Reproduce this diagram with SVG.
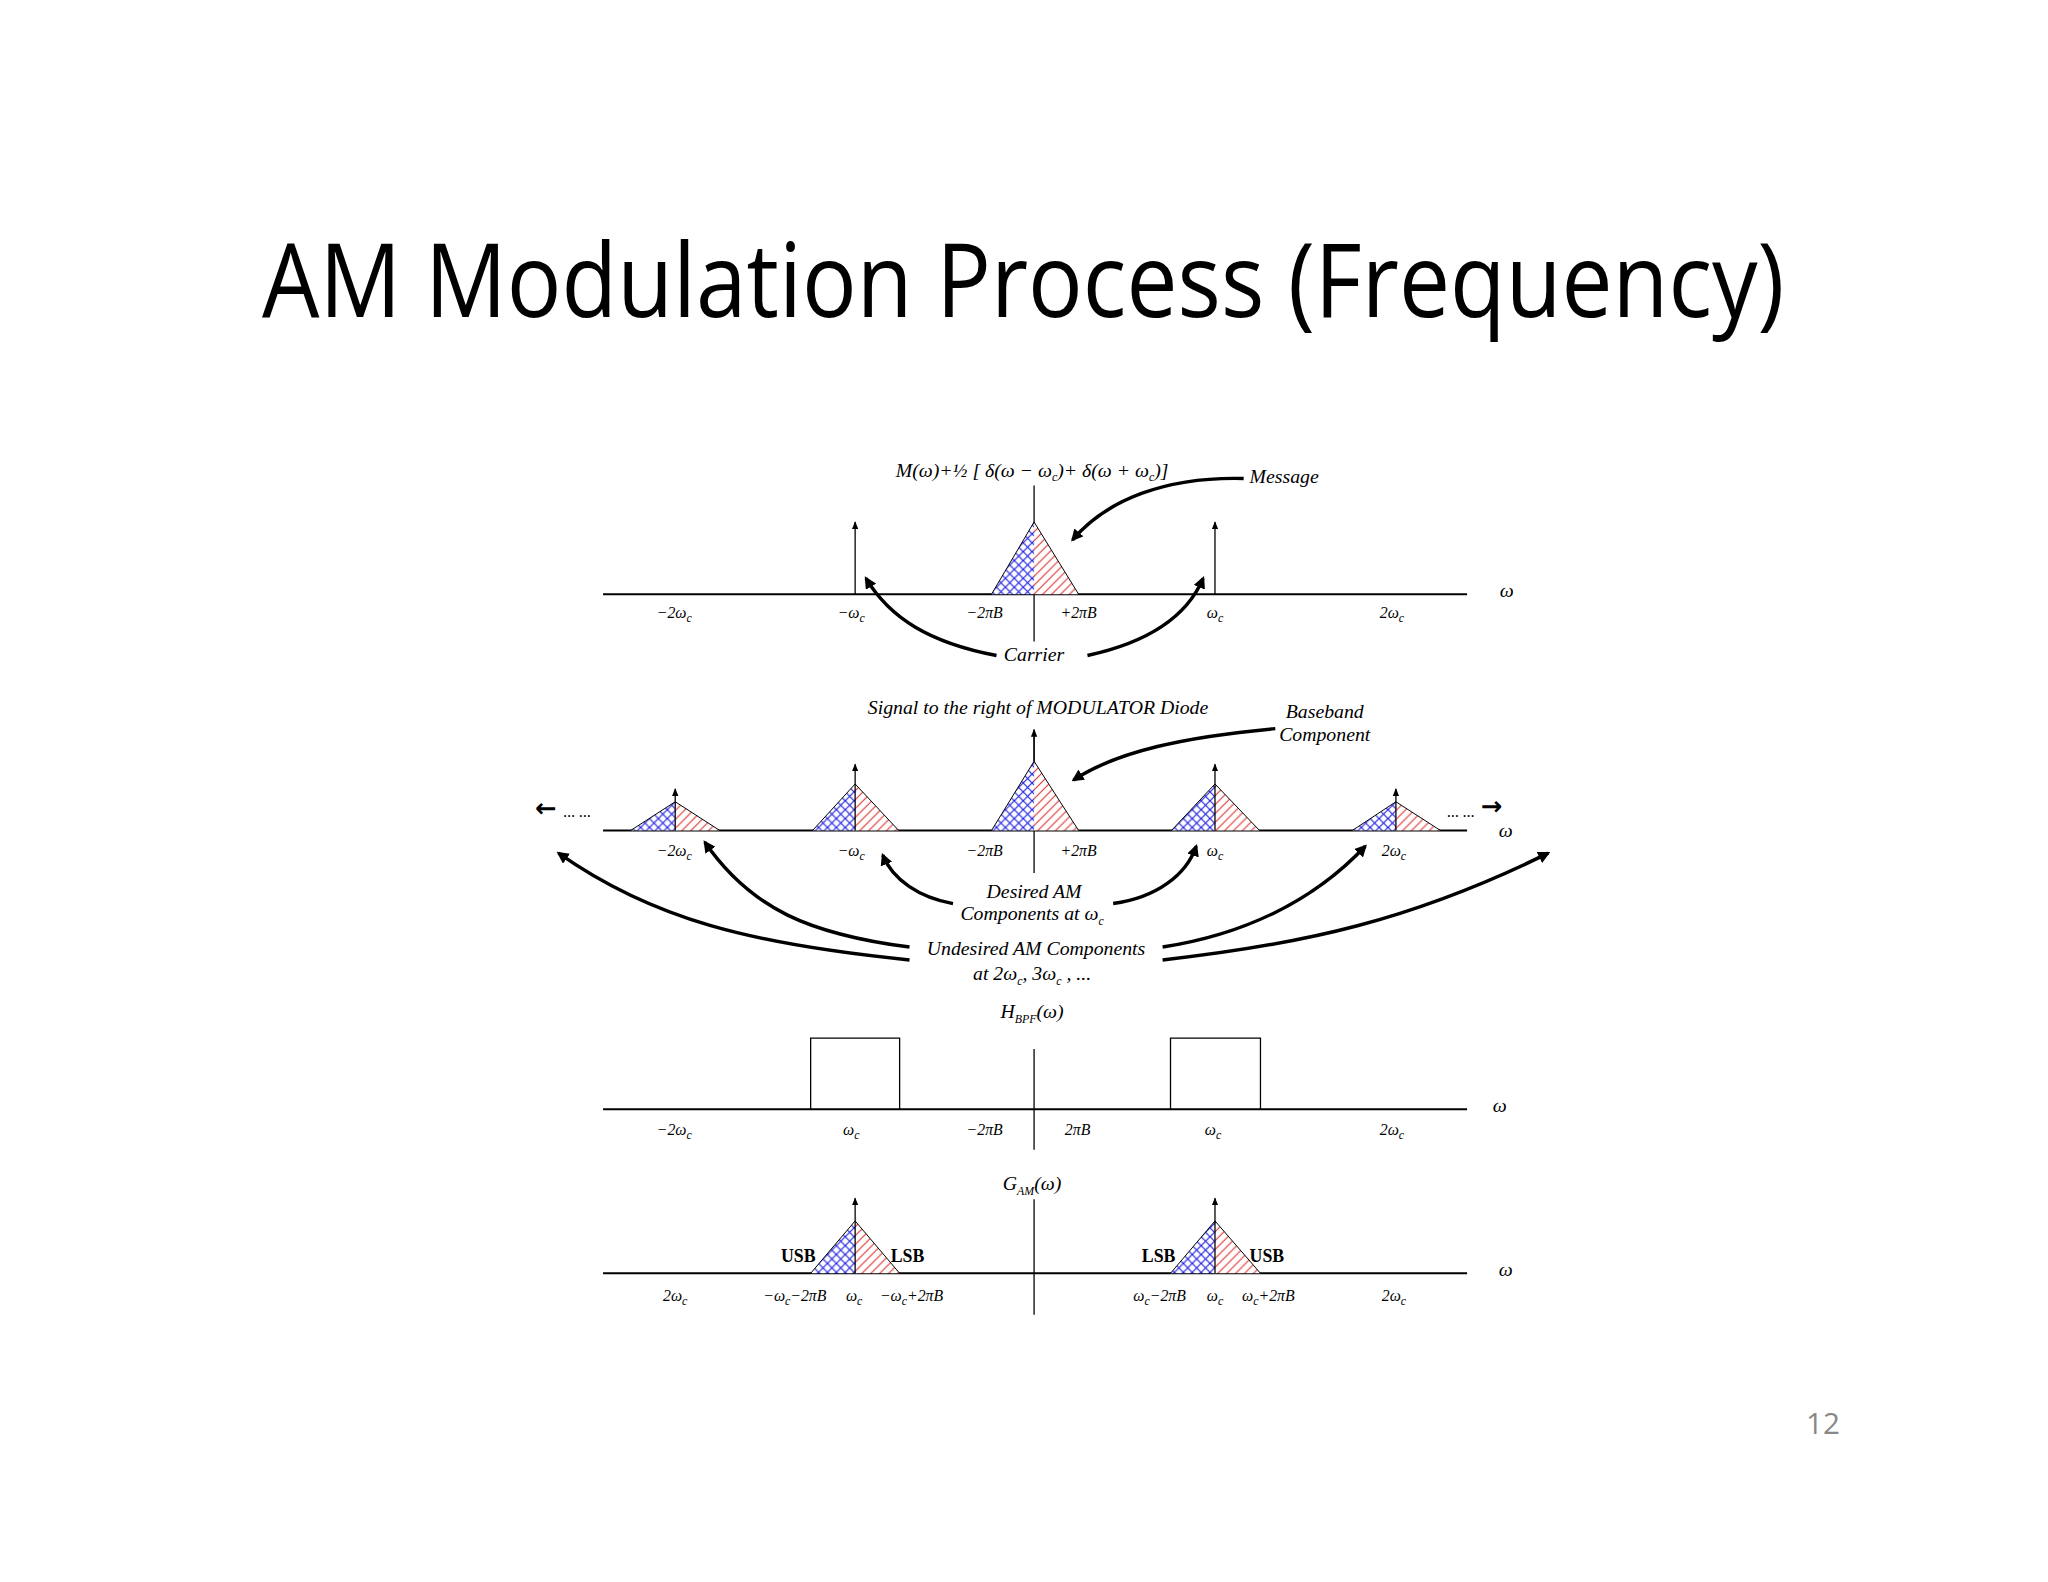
<svg xmlns="http://www.w3.org/2000/svg" width="2048" height="1582" viewBox="0 0 2048 1582">
<style>
.ax{stroke:#000;stroke-width:2;fill:none}
.th{stroke:#000;stroke-width:1.3;fill:none}
.imp{stroke:#000;stroke-width:1.3;fill:none;marker-end:url(#ah)}
.cv{stroke:#000;stroke-width:3.5;fill:none;marker-end:url(#bh)}
.t{font-family:"Liberation Serif",serif;font-style:italic;font-size:20px;fill:#000}
.l{font-family:"Liberation Serif",serif;font-style:italic;font-size:16px;fill:#000;text-anchor:middle}
.c{text-anchor:middle}
.b{font-family:"Liberation Serif",serif;font-weight:bold;font-size:18px;fill:#000}
.s{font-size:12px}
.bl{fill:url(#xh);stroke:none}
.rd{fill:url(#dh);stroke:none}
.ol{fill:none;stroke:#000;stroke-width:1}
</style>
<defs>
<marker id="ah" viewBox="0 0 10 10" refX="9" refY="5" markerWidth="8" markerHeight="8" orient="auto" markerUnits="userSpaceOnUse"><path d="M0,1 L10,5 L0,9 Z" fill="#000"/></marker>
<marker id="bh" viewBox="0 0 10 10" refX="8" refY="5" markerWidth="3.5" markerHeight="3.5" orient="auto"><path d="M0,0 L10,5 L0,10 Z" fill="#000"/></marker>
<pattern id="xh" width="9" height="9" patternUnits="userSpaceOnUse"><rect width="9" height="9" fill="#fff"/><path d="M0,0 L9,9 M9,0 L0,9" stroke="#2020e0" stroke-width="1.2"/></pattern>
<pattern id="dh" width="9" height="9" patternUnits="userSpaceOnUse"><rect width="9" height="9" fill="#fff"/><path d="M-1,10 L10,-1 M-2,2 L2,-2 M7,11 L11,7" stroke="#e03030" stroke-width="1.1"/></pattern>
</defs>
<rect width="2048" height="1582" fill="#fff"/>
<g transform="scale(0.9886)">
<text x="1035" y="321" font-family="'Open Sans','Liberation Sans',sans-serif" font-size="104" text-anchor="middle" textLength="1540" lengthAdjust="spacingAndGlyphs">AM Modulation Process (Frequency)</text>
<text x="1844" y="1451" font-family="'Open Sans','Liberation Sans',sans-serif" font-size="30" fill="#888" text-anchor="middle">12</text>

<g id="panel1">
<line class="ax" x1="610" y1="601" x2="1484" y2="601"/>
<line class="th" x1="1046" y1="491" x2="1046" y2="649"/>
<polygon class="bl" points="1003,601 1046,528 1046,601"/>
<polygon class="rd" points="1046,601 1046,528 1091,601"/>
<polyline class="ol" points="1003,601 1046,528 1091,601"/>
<line class="imp" x1="865" y1="601" x2="865" y2="528"/>
<line class="imp" x1="1229" y1="601" x2="1229" y2="528"/>
<text class="t c" x="1044" y="483">M(ω)+½ [ δ(ω − ω<tspan class="s" dy="4">c</tspan><tspan dy="-4">)+ δ(ω + ω</tspan><tspan class="s" dy="4">c</tspan><tspan dy="-4">)]</tspan></text>
<text class="t" x="1264" y="489">Message</text>
<text class="t c" x="1046" y="669">Carrier</text>
<text class="t" x="1517" y="604">ω</text>
<text class="l" x="682" y="625">−2ω<tspan class="s" dy="4">c</tspan></text>
<text class="l" x="861" y="625">−ω<tspan class="s" dy="4">c</tspan></text>
<text class="l" x="996" y="625">−2πB</text>
<text class="l" x="1091" y="625">+2πB</text>
<text class="l" x="1229" y="625">ω<tspan class="s" dy="4">c</tspan></text>
<text class="l" x="1408" y="625">2ω<tspan class="s" dy="4">c</tspan></text>
</g>

<g id="panel2">
<line class="ax" x1="610" y1="840" x2="1484" y2="840"/>
<line class="th" x1="1046" y1="883" x2="1046" y2="740"/>
<line class="imp" x1="1046" y1="770" x2="1046" y2="738"/>
<polygon class="bl" points="1003,840 1046,770 1046,840"/><polygon class="rd" points="1046,840 1046,770 1091,840"/><polyline class="ol" points="1003,840 1046,770 1091,840"/>
<polygon class="bl" points="822,840 865,793 865,840"/><polygon class="rd" points="865,840 865,793 909,840"/><polyline class="ol" points="822,840 865,793 909,840"/>
<line class="imp" x1="865" y1="840" x2="865" y2="773"/>
<polygon class="bl" points="1185,840 1229,793 1229,840"/><polygon class="rd" points="1229,840 1229,793 1274,840"/><polyline class="ol" points="1185,840 1229,793 1274,840"/>
<line class="imp" x1="1229" y1="840" x2="1229" y2="773"/>
<polygon class="bl" points="638,840 683,811 683,840"/><polygon class="rd" points="683,840 683,811 728,840"/><polyline class="ol" points="638,840 683,811 728,840"/>
<line class="imp" x1="683" y1="840" x2="683" y2="798"/>
<polygon class="bl" points="1368,840 1412,811 1412,840"/><polygon class="rd" points="1412,840 1412,811 1457,840"/><polyline class="ol" points="1368,840 1412,811 1457,840"/>
<line class="imp" x1="1412" y1="840" x2="1412" y2="798"/>
<text x="552" y="826" font-family="'DejaVu Sans',sans-serif" font-weight="bold" font-size="26" text-anchor="middle">←</text>
<text x="1509" y="824" font-family="'DejaVu Sans',sans-serif" font-weight="bold" font-size="26" text-anchor="middle">→</text>
<text class="l" x="584" y="826" font-size="11">... ...</text>
<text class="l" x="1478" y="826" font-size="11">... ...</text>
<text class="t" x="1516" y="847">ω</text>
<text class="t c" x="1050" y="722">Signal to the right of MODULATOR Diode</text>
<text class="t c" x="1340" y="726">Baseband</text>
<text class="t c" x="1340" y="750">Component</text>
<text class="l" x="682" y="866">−2ω<tspan class="s" dy="4">c</tspan></text>
<text class="l" x="861" y="866">−ω<tspan class="s" dy="4">c</tspan></text>
<text class="l" x="996" y="866">−2πB</text>
<text class="l" x="1091" y="866">+2πB</text>
<text class="l" x="1229" y="866">ω<tspan class="s" dy="4">c</tspan></text>
<text class="l" x="1410" y="866">2ω<tspan class="s" dy="4">c</tspan></text>
<text class="t c" x="1046" y="908">Desired AM</text>
<text class="t c" x="1044" y="931">Components at ω<tspan class="s" dy="5">c</tspan></text>
<text class="t c" x="1048" y="966">Undesired AM Components</text>
<text class="t c" x="1044" y="991">at 2ω<tspan class="s" dy="5">c</tspan><tspan dy="-5">, 3ω</tspan><tspan class="s" dy="5">c</tspan><tspan dy="-5"> , ...</tspan></text>
</g>

<g id="panel3">
<line class="ax" x1="610" y1="1122" x2="1484" y2="1122"/>
<line class="th" x1="1046" y1="1061" x2="1046" y2="1163"/>
<polyline class="th" points="820,1122 820,1050 910,1050 910,1122"/>
<polyline class="th" points="1184,1122 1184,1050 1275,1050 1275,1122"/>
<text class="t c" x="1044" y="1030">H<tspan class="s" dy="5">BPF</tspan><tspan dy="-5">(ω)</tspan></text>
<text class="t" x="1510" y="1125">ω</text>
<text class="l" x="682" y="1148">−2ω<tspan class="s" dy="4">c</tspan></text>
<text class="l" x="861" y="1148">ω<tspan class="s" dy="4">c</tspan></text>
<text class="l" x="996" y="1148">−2πB</text>
<text class="l" x="1090" y="1148">2πB</text>
<text class="l" x="1227" y="1148">ω<tspan class="s" dy="4">c</tspan></text>
<text class="l" x="1408" y="1148">2ω<tspan class="s" dy="4">c</tspan></text>
</g>

<g id="panel4">
<line class="ax" x1="610" y1="1288" x2="1484" y2="1288"/>
<line class="th" x1="1046" y1="1213" x2="1046" y2="1330"/>
<polygon class="bl" points="820,1288 865,1235 865,1288"/><polygon class="rd" points="865,1288 865,1235 910,1288"/><polyline class="ol" points="820,1288 865,1235 910,1288"/>
<line class="imp" x1="865" y1="1288" x2="865" y2="1212"/>
<polygon class="bl" points="1184,1288 1229,1235 1229,1288"/><polygon class="rd" points="1229,1288 1229,1235 1275,1288"/><polyline class="ol" points="1184,1288 1229,1235 1275,1288"/>
<line class="imp" x1="1229" y1="1288" x2="1229" y2="1212"/>
<text class="t c" x="1044" y="1204">G<tspan class="s" dy="5">AM</tspan><tspan dy="-5">(ω)</tspan></text>
<text class="t" x="1516" y="1291">ω</text>
<text class="b" x="790" y="1277">USB</text>
<text class="b" x="901" y="1277">LSB</text>
<text class="b" x="1155" y="1277">LSB</text>
<text class="b" x="1264" y="1277">USB</text>
<text class="l" x="683" y="1316">2ω<tspan class="s" dy="4">c</tspan></text>
<text class="l" x="804" y="1316">−ω<tspan class="s" dy="4">c</tspan><tspan dy="-4">−2πB</tspan></text>
<text class="l" x="864" y="1316">ω<tspan class="s" dy="4">c</tspan></text>
<text class="l" x="922" y="1316">−ω<tspan class="s" dy="4">c</tspan><tspan dy="-4">+2πB</tspan></text>
<text class="l" x="1173" y="1316">ω<tspan class="s" dy="4">c</tspan><tspan dy="-4">−2πB</tspan></text>
<text class="l" x="1229" y="1316">ω<tspan class="s" dy="4">c</tspan></text>
<text class="l" x="1283" y="1316">ω<tspan class="s" dy="4">c</tspan><tspan dy="-4">+2πB</tspan></text>
<text class="l" x="1410" y="1316">2ω<tspan class="s" dy="4">c</tspan></text>
</g>

<g id="connectors">
<path class="cv" d="M1258,484 C1180,482 1120,505 1085,546"/>
<path class="cv" d="M1008,663 C940,650 900,625 876,585"/>
<path class="cv" d="M1100,663 C1160,650 1200,625 1217,585"/>
<path class="cv" d="M1290,737 C1200,745 1130,760 1086,789"/>
<path class="cv" d="M964,914 C930,908 903,890 893,865"/>
<path class="cv" d="M1126,914 C1170,908 1200,885 1210,856"/>
<path class="cv" d="M920,958 C820,945 760,920 713,852"/>
<path class="cv" d="M920,971 C760,955 660,930 565,863"/>
<path class="cv" d="M1176,958 C1260,945 1330,910 1381,856"/>
<path class="cv" d="M1176,971 C1320,955 1430,930 1566,863"/>
</g>
</g>
</svg>
